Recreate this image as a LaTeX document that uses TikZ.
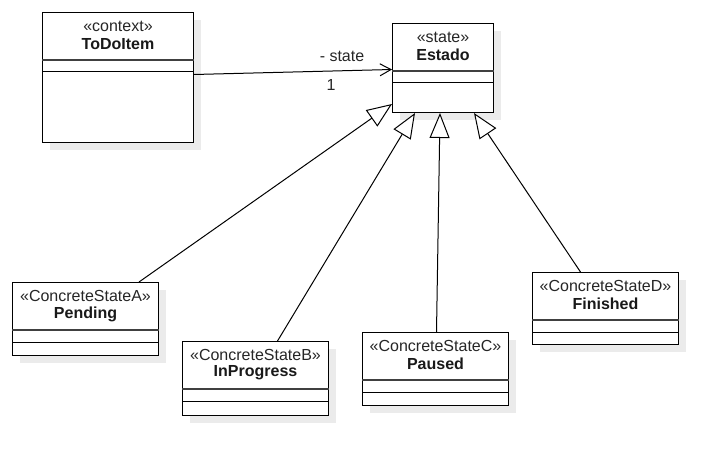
\documentclass[tikz,border=0pt]{standalone}
\usepackage{fontspec}
\setmainfont{Liberation Sans}
\usetikzlibrary{arrows.meta,calc}

% one UML class: #1 name, #2 x, #3 y, #4 width, #5 height, #6 stereotype, #7 title
\newcommand\umlclassbox[7]{%
  \fill[shadowfill] (#2+8,#3+8) rectangle ++(#4,#5);
  \node[classbox, minimum width=#4pt, minimum height=#5pt] (#1) at (#2,#3) {};
  \draw[headline] ($(#1.north west)+(0,48)$) -- ($(#1.north east)+(0,48)$);
  \draw[rowline] ($(#1.north west)+(0,60)$) -- ($(#1.north east)+(0,60)$);
  \node[stereo] (#1-st) at ($(#1.north)+(0,14)$) {«#6»};
  \node[classtitle] (#1-tt) at ($(#1.north)+(0,32)$) {#7};
}

\begin{document}
\begin{tikzpicture}[x=1pt,y=-1pt,
  shadowfill/.style={fill=black!8},
  classbox/.style={draw=black, line width=1pt, fill=white, anchor=north west, inner sep=0pt},
  headline/.style={draw=black!75, line width=1.6pt},
  rowline/.style={draw=black, line width=1pt},
  stereo/.style={font=\fontsize{16pt}{19pt}\selectfont, text=black!85, inner sep=0pt},
  classtitle/.style={font=\fontsize{16pt}{19pt}\selectfont\bfseries, text=black!90, inner sep=0pt},
  lbl/.style={font=\fontsize{16pt}{19pt}\selectfont, text=black!85, inner sep=0pt},
  assoc/.style={draw=black, line width=1pt, -{Straight Barb[length=11pt, width=12pt]}},
  gen/.style={draw=black, line width=1pt, -{Triangle[length=25pt, width=20pt, fill=white]}}]
  \useasboundingbox (0,0) rectangle (728,465);

  \umlclassbox{todo}{42}{12}{151}{130}{context}{ToDoItem}
  \umlclassbox{estado}{392}{23}{101}{89}{state}{Estado}
  \umlclassbox{pending}{12}{282}{146}{73}{ConcreteStateA}{Pending}
  \umlclassbox{inprog}{182}{341}{146}{74}{ConcreteStateB}{InProgress}
  \umlclassbox{paused}{362}{332}{146}{73}{ConcreteStateC}{Paused}
  \umlclassbox{finished}{532}{272}{146}{72}{ConcreteStateD}{Finished}

  % association ToDoItem -> Estado
  \draw[assoc] ($(todo.east)+(0,-3)$) -- ($(estado.west)+(0,1.5)$);
  \node[lbl] (rolename) at (342,56) {- state};
  \node[lbl] (mult) at (331,85) {1};

  % generalizations
  \draw[gen] ($(pending.north east)+(-20,0)$) -- ($(estado.south west)+(0,-9)$);
  \draw[gen] ($(inprog.north)+(22,0)$) -- ($(estado.south west)+(23,0)$);
  \draw[gen] ($(paused.north)+(1,0)$) -- ($(estado.south west)+(48,0)$);
  \draw[gen] ($(finished.north)+(-25,0)$) -- ($(estado.south west)+(82,0)$);
\end{tikzpicture}
\end{document}
